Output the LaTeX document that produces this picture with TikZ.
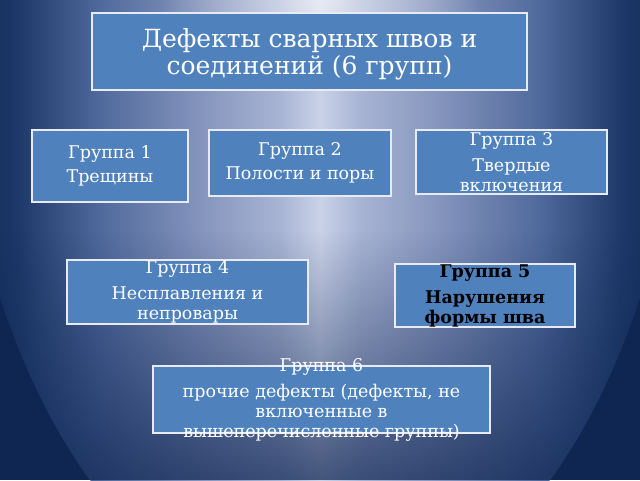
\documentclass[tikz,border=0pt]{standalone}
\usepackage{fontspec}
\setmainfont{DejaVu Serif}
\usetikzlibrary{fadings}
\definecolor{boxfill}{HTML}{4F81BD}
\definecolor{boxline}{HTML}{E8EBF3}
\definecolor{bgOut}{HTML}{0F2552}
\definecolor{hA}{HTML}{183262}
\definecolor{hB}{HTML}{1E3A6A}
\definecolor{hC}{HTML}{50699C}
\definecolor{hD}{HTML}{8494BC}
\definecolor{hE}{HTML}{A8B4D4}
\definecolor{hF}{HTML}{CAD2E8}
\pgfdeclarehorizontalshading{hshade}{100bp}{color(0bp)=(hA); color(25bp)=(hA); color(26.56bp)=(hB); color(32.8bp)=(hC); color(40.6bp)=(hD); color(46.9bp)=(hE); color(50bp)=(hF); color(53.1bp)=(hE); color(59.4bp)=(hD); color(67.2bp)=(hC); color(73.44bp)=(hB); color(75bp)=(hA); color(100bp)=(hA)}
\tikzfading[name=fadedown, top color=transparent!100, bottom color=transparent!28]
\tikzfading[name=glowfade, inner color=transparent!45, outer color=transparent!100]
\tikzset{
  grpbox/.style={draw=boxline, line width=2pt, fill=boxfill, inner sep=0pt},
  grptxt/.style={text=white, align=center, inner sep=0pt, font=\fontsize{17.5}{20}\selectfont},
  titletxt/.style={text=white, align=center, inner sep=0pt, font=\fontsize{25}{27}\selectfont},
  boldtxt/.style={text=black, align=center, inner sep=0pt, font=\bfseries\fontsize{17.5}{20}\selectfont}
}
\begin{document}
\begin{tikzpicture}[x=1pt,y=-1pt]
\useasboundingbox (0,0) rectangle (640,480);
\begin{scope}
  \clip (0,0) rectangle (640,480);
  \fill[bgOut] (0,0) rectangle (640,480);
  \clip (320,0) ellipse [x radius=365, y radius=618];
  \shade[shading=hshade] (0,0) rectangle (640,480);
  \fill[bgOut, path fading=fadedown] (0,230) rectangle (640,480);
  \fill[white, path fading=glowfade] (320,0) ellipse [x radius=160, y radius=80];
\end{scope}
% boxes
\node[grpbox, minimum width=435pt, minimum height=77pt] (title) at (309.5,51.5) {};
\node[grpbox, minimum width=156pt, minimum height=72pt] (g1) at (110,166) {};
\node[grpbox, minimum width=182pt, minimum height=66pt] (g2) at (300,163) {};
\node[grpbox, minimum width=191pt, minimum height=64pt] (g3) at (511.5,162) {};
\node[grpbox, minimum width=241pt, minimum height=64pt] (g4) at (187.5,292) {};
\node[grpbox, minimum width=180pt, minimum height=63pt] (g5) at (485,295.5) {};
\node[grpbox, minimum width=337pt, minimum height=67pt] (g6) at (321.5,399.5) {};
% texts
\node[titletxt] (titlet) at ([yshift=-2.5pt]title.center) {Дефекты сварных швов и\\соединений (6 групп)};
\node[grptxt] (g1t) at (g1.center) {Группа 1\\[4pt]Трещины};
\node[grptxt] (g2t) at (g2.center) {Группа 2\\[4pt]Полости и поры};
\node[grptxt] (g3t) at (g3.center) {Группа 3\\[6pt]Твердые\\включения};
\node[grptxt] (g4t) at (g4.center) {Группа 4\\[6pt]Несплавления и\\непровары};
\node[boldtxt] (g5t) at (g5.center) {Группа 5\\[6pt]Нарушения\\формы шва};
\node[grptxt] (g6t) at (g6.center) {Группа 6\\[6pt]прочие дефекты (дефекты, не\\включенные в\\вышеперечисленные группы)};
\end{tikzpicture}
\end{document}
